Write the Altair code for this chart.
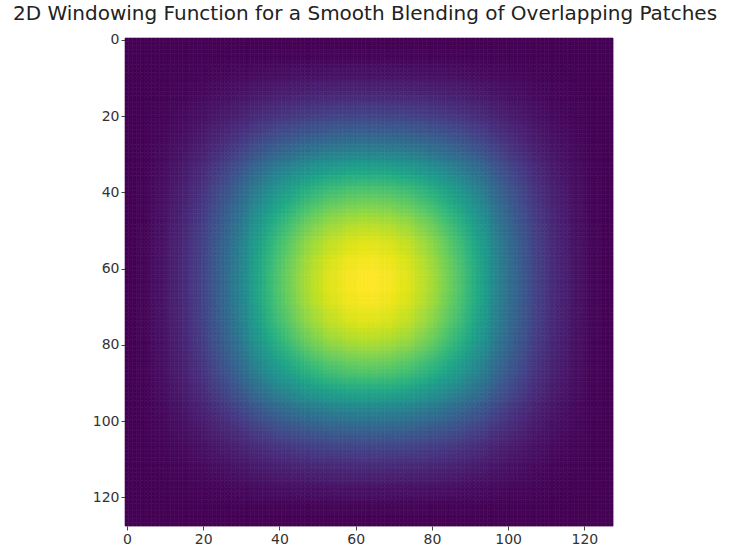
import altair as alt
import pandas as pd

# Half profile (units 0..63) of the 1D window, normalized
half_profile = [
    0.00, 0.00, 0.00, 0.01, 0.01, 0.01, 0.02, 0.03,
    0.04, 0.04, 0.05, 0.07, 0.08, 0.09, 0.10, 0.12,
    0.13, 0.15, 0.17, 0.18, 0.20, 0.22, 0.25, 0.27,
    0.29, 0.32, 0.34, 0.37, 0.40, 0.42, 0.45, 0.48,
    0.52, 0.55, 0.58, 0.60, 0.63, 0.66, 0.68, 0.71,
    0.73, 0.75, 0.77, 0.79, 0.81, 0.83, 0.85, 0.87,
    0.88, 0.90, 0.91, 0.92, 0.94, 0.95, 0.96, 0.96,
    0.97, 0.98, 0.99, 0.99, 0.99, 1.00, 1.00, 1.00,
]
profile = half_profile + half_profile[::-1]  # 128 values, symmetric window
tick_values = [0, 20, 40, 60, 80, 100, 120]
title_text = "2D Windowing Function for a Smooth Blending of Overlapping Patches"

n = len(profile)
rows = []
for r in range(n):
    for c in range(n):
        rows.append({"x": c, "y": r, "v": round(profile[r] * profile[c], 4)})
df = pd.DataFrame(rows)

cscale = alt.Scale(scheme="viridis", domain=[0, 1])

axis_style = dict(values=tick_values, title=None, grid=False, domain=False,
                  tickSize=4, tickColor="#444", labelFontSize=14,
                  labelColor="#333", labelPadding=2, labelFont="DejaVu Sans",
                  labelFlush=False)

chart = (
    alt.Chart(df)
    .transform_calculate(x0="datum.x - 0.5", x1="datum.x + 0.5",
                         y0="datum.y - 0.5", y1="datum.y + 0.5")
    .mark_rect(strokeWidth=0.6)
    .encode(
        x=alt.X("x0:Q", scale=alt.Scale(domain=[-0.5, 127.5], nice=False, zero=False),
                axis=alt.Axis(**axis_style)),
        x2="x1:Q",
        y=alt.Y("y0:Q", scale=alt.Scale(domain=[-0.5, 127.5], reverse=True, nice=False, zero=False),
                axis=alt.Axis(**axis_style)),
        y2="y1:Q",
        color=alt.Color("v:Q", scale=cscale, legend=None),
        stroke=alt.Stroke("v:Q", scale=cscale, legend=None),
    )
    .properties(
        width=488,
        height=488,
        title=alt.TitleParams(title_text, fontSize=20, font="DejaVu Sans", fontWeight="normal",
                              color="#222", anchor="middle", frame="group", offset=9, dx=-4),
        autosize=alt.AutoSizeParams(type="none"),
        padding={"left": 125, "top": 38, "right": 117, "bottom": 20},
    )
    .configure_view(stroke="#111", strokeWidth=1)
    .configure(background="white")
)

chart.save("out.html", embed_options={"renderer": "svg", "actions": False})
